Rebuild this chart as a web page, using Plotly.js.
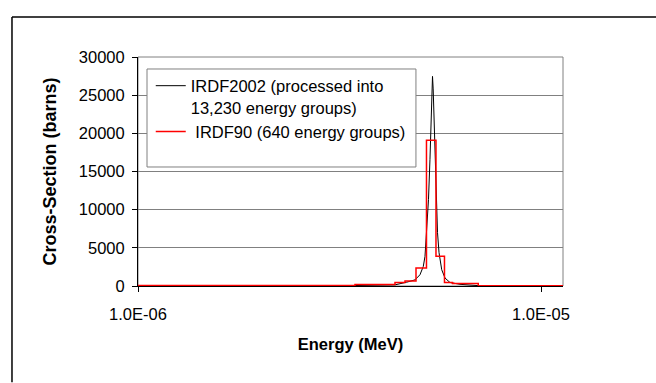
<!DOCTYPE html>
<html>
<head>
<meta charset="utf-8">
<script src="https://cdn.plot.ly/plotly-3.0.1.min.js"></script>
<style>
  html, body { margin: 0; padding: 0; background: #fff; overflow: hidden; }
  #chart { width: 656px; height: 383px; }
</style>
</head>
<body>
<div id="chart"></div>
<script>
// IRDF2002 (processed into 13,230 energy groups)
const irdf2002Energy = [3.208e-6, 3.986e-6, 4.342e-6, 4.642e-6, 4.867e-6, 5.008e-6, 5.104e-6, 5.154e-6,
  5.204e-6, 5.258e-6, 5.303e-6, 5.333e-6, 5.364e-6, 5.380e-6, 5.401e-6, 5.426e-6, 5.457e-6,
  5.495e-6, 5.536e-6, 5.584e-6, 5.671e-6, 5.779e-6, 5.945e-6, 6.295e-6, 6.665e-6, 7.058e-6];
const irdf2002Sigma = [30, 80, 150, 500, 800, 1470, 2560, 3880,
  7000, 11340, 16600, 21870, 26470, 27460, 25820, 21870, 16600,
  11340, 7000, 4370, 2130, 1040, 460, 220, 90, 30];

// IRDF90 (640 energy groups) — group boundaries and group values
const irdf90Energy = [1.0e-6, 3.455e-6, 4.342e-6, 4.598e-6, 4.896e-6, 5.198e-6, 5.488e-6, 5.761e-6, 6.031e-6, 6.988e-6, 1.134e-5];
const irdf90Sigma  = [60, 200, 450, 650, 2355, 19100, 3900, 460, 330, 40, 40];

const yTicks = [0, 5000, 10000, 15000, 20000, 25000, 30000];
const xTickVals = [1e-6, 1e-5];
const xTickText = ['1.0E-06', '1.0E-05'];

const FONT = 'Liberation Sans, Arial, sans-serif';
const FS = 16.5;

const traces = [
  {
    x: irdf2002Energy, y: irdf2002Sigma, type: 'scatter', mode: 'lines',
    name: 'IRDF2002 (processed into<br>13,230 energy groups)',
    line: { color: '#000000', width: 1 }
  },
  {
    x: irdf90Energy, y: irdf90Sigma, type: 'scatter', mode: 'lines',
    name: '\u00a0IRDF90 (640 energy groups)',
    line: { color: '#ff0000', width: 1.5, shape: 'hv' }
  }
];

const layout = {
  width: 656, height: 383,
  margin: { l: 138, r: 93, t: 57, b: 97, pad: 0 },
  paper_bgcolor: '#ffffff', plot_bgcolor: '#ffffff',
  font: { family: FONT, size: FS, color: '#000000' },
  showlegend: true,
  legend: {
    x: 0.03, y: 0.95, xanchor: 'left', yanchor: 'top',
    bgcolor: 'rgba(0,0,0,0)', borderwidth: 0,
    font: { family: FONT, size: FS, color: '#000' },
    valign: 'top', tracegroupgap: 6
  },
  xaxis: {
    type: 'log', range: [-6, -4.9454],
    tickmode: 'array', tickvals: xTickVals, ticktext: xTickText,
    showgrid: false, zeroline: false,
    showline: true, linecolor: '#000', linewidth: 1,
    ticks: 'outside', ticklen: 5, tickcolor: '#000',
    ticklabelstandoff: 8,
    tickfont: { family: FONT, size: FS, color: '#000' },
    title: { text: 'Energy (MeV)', font: { family: FONT, size: FS, color: '#000', weight: 'bold' }, standoff: 16 }
  },
  yaxis: {
    range: [0, 30000],
    tickmode: 'array', tickvals: yTicks, tickformat: 'd',
    showgrid: true, gridcolor: '#808080', gridwidth: 1,
    zeroline: false,
    showline: true, linecolor: '#000', linewidth: 1,
    ticks: 'outside', ticklen: 5, tickcolor: '#000',
    ticklabelstandoff: 4,
    tickfont: { family: FONT, size: FS, color: '#000' },
    title: { text: 'Cross-Section (barns)', font: { family: FONT, size: 18, color: '#000', weight: 'bold' }, standoff: 17 }
  },
  shapes: [
    // outer chart border: left and top edges (pixel-sized via paper fractions)
    { type: 'line', xref: 'paper', yref: 'paper', x0: -0.2965, x1: -0.2965, y0: -0.42, y1: 1.1747,
      line: { color: '#000', width: 1.5 }, layer: 'below' },
    { type: 'line', xref: 'paper', yref: 'paper', x0: -0.2965, x1: 1.2188, y0: 1.1747, y1: 1.1747,
      line: { color: '#000', width: 1.5 }, layer: 'below' },
    // plot area border
    { type: 'rect', xref: 'paper', yref: 'paper', x0: 0, x1: 1, y0: 0, y1: 1,
      line: { color: '#808080', width: 1 }, fillcolor: 'rgba(0,0,0,0)', layer: 'below' },
    // legend box
    { type: 'rect', xref: 'paper', yref: 'paper', x0: 0.0212, x1: 0.654, y0: 0.5197, y1: 0.9476,
      line: { color: '#808080', width: 1 }, fillcolor: '#ffffff', layer: 'above' }
  ]
};

Plotly.newPlot('chart', traces, layout, { displayModeBar: false, staticPlot: true });
</script>
</body>
</html>
